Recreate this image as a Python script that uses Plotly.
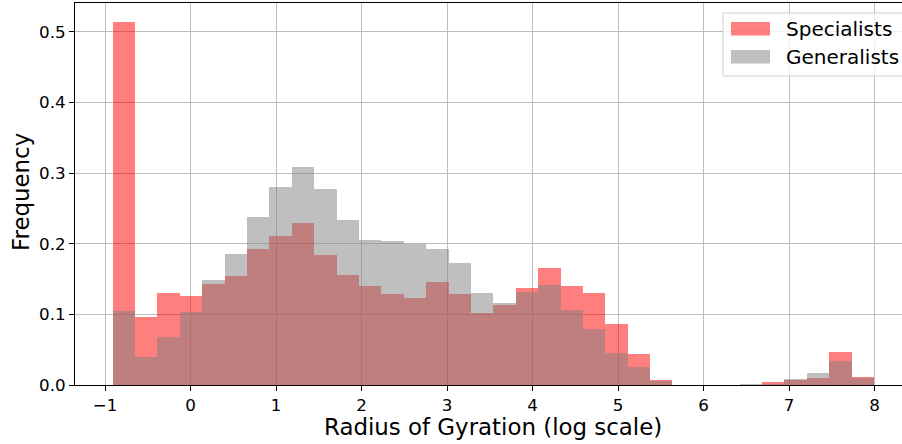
import numpy as np
import plotly.graph_objects as go

# ---- data (density histogram, 34 shared bins) ----
bin_lo = -0.91
bin_hi = 7.994
n_bins = 34

specialists = [0.5137, 0.0962, 0.1302, 0.1259, 0.1429, 0.1542, 0.1929, 0.2108,
               0.2292, 0.1840, 0.1557, 0.1401, 0.1288, 0.1231, 0.1457, 0.1288,
               0.1019, 0.1132, 0.1373, 0.1656, 0.1401, 0.1302, 0.0863, 0.0439,
               0.0071, 0.0, 0.0, 0.0, 0.0, 0.0042, 0.0071, 0.0099, 0.0467, 0.0113]
generalists = [0.1047, 0.0396, 0.0679, 0.1033, 0.1486, 0.1854, 0.2377, 0.2802,
               0.3085, 0.2773, 0.2335, 0.2052, 0.2038, 0.2000, 0.1924, 0.1726,
               0.1302, 0.1160, 0.1316, 0.1415, 0.1061, 0.0792, 0.0453, 0.0255,
               0.0057, 0.0, 0.0, 0.0, 0.0014, 0.0014, 0.0085, 0.0170, 0.0340, 0.0099]
series_names = ["Specialists", "Generalists"]
x_ticks = [-1, 0, 1, 2, 3, 4, 5, 6, 7, 8]
y_ticks = [0.0, 0.1, 0.2, 0.3, 0.4, 0.5]

edges = np.linspace(bin_lo, bin_hi, n_bins + 1)
centers = (edges[:-1] + edges[1:]) / 2
width = edges[1] - edges[0]

RED = "rgba(255,0,0,0.5)"
GRAY = "rgba(128,128,128,0.5)"
FONT = "DejaVu Sans"
TICK_SIZE = 16.7
TITLE_SIZE = 22.9
LEGEND_SIZE = 20.0

W, H = 902, 444
ML, MR, MT, MB = 75, 0, 3, 59
PW = W - ML - MR
PH = H - MT - MB


def px(xpix):
    return (xpix - ML) / PW


def py(ypix):
    return (H - MB - ypix) / PH


fig = go.Figure()
fig.add_trace(go.Bar(x=centers, y=specialists, width=width, name=series_names[0],
                     marker=dict(color=RED, line=dict(width=0)), showlegend=False))
fig.add_trace(go.Bar(x=centers, y=generalists, width=width, name=series_names[1],
                     marker=dict(color=GRAY, line=dict(width=0)), showlegend=False))

# custom legend (matplotlib style)
shapes = [
    dict(type="rect", xref="paper", yref="paper",
         x0=px(723), x1=px(903), y0=py(76), y1=py(13),
         fillcolor="rgba(255,255,255,0.8)", line=dict(color="#d0d0d0", width=1), layer="above"),
    dict(type="rect", xref="paper", yref="paper",
         x0=px(731), x1=px(770), y0=py(35.5), y1=py(22),
         fillcolor=RED, line=dict(width=0), layer="above"),
    dict(type="rect", xref="paper", yref="paper",
         x0=px(731), x1=px(770), y0=py(63.5), y1=py(50),
         fillcolor=GRAY, line=dict(width=0), layer="above"),
]
annotations = [
    dict(text=series_names[0], xref="paper", yref="paper", x=px(784), y=py(29),
         xanchor="left", yanchor="middle", showarrow=False,
         font=dict(family=FONT, size=LEGEND_SIZE, color="black")),
    dict(text=series_names[1], xref="paper", yref="paper", x=px(784), y=py(57),
         xanchor="left", yanchor="middle", showarrow=False,
         font=dict(family=FONT, size=LEGEND_SIZE, color="black")),
    dict(text="Radius of Gyration (log scale)", xref="paper", yref="paper",
         x=px(493), y=py(427), xanchor="center", yanchor="middle", showarrow=False,
         font=dict(family=FONT, size=TITLE_SIZE, color="black")),
    dict(text="Frequency", xref="paper", yref="paper",
         x=px(20.5), y=py(192.5), xanchor="center", yanchor="middle", showarrow=False,
         textangle=-90, font=dict(family=FONT, size=TITLE_SIZE, color="black")),
]

x_left = -1 - (105 - ML) / 85.5
x_right = x_left + PW / 85.5
y_top = PH / 706.6

fig.update_layout(
    width=W, height=H,
    margin=dict(l=ML, r=MR, t=MT, b=MB, pad=0),
    barmode="overlay",
    bargap=0,
    plot_bgcolor="white",
    paper_bgcolor="white",
    font=dict(family=FONT, size=TICK_SIZE, color="black"),
    shapes=shapes,
    annotations=annotations,
    showlegend=False,
    xaxis=dict(range=[x_left, x_right], tickvals=x_ticks, ticks="outside", ticklen=5,
               tickwidth=1.1, tickcolor="black", showgrid=True, gridcolor="#bdbdbd",
               gridwidth=1, showline=True, linecolor="black", linewidth=1.1,
               mirror=True, zeroline=False, tickfont=dict(size=TICK_SIZE)),
    yaxis=dict(range=[0, y_top], tickvals=y_ticks, tickformat=".1f", ticks="outside",
               ticklen=5, tickwidth=1.1, tickcolor="black", showgrid=True,
               gridcolor="#bdbdbd", gridwidth=1, showline=True, linecolor="black",
               linewidth=1.1, zeroline=False, tickfont=dict(size=TICK_SIZE)),
)

fig.write_html("out.html", config={"displayModeBar": False},
               post_script="document.body.style.margin='0';document.body.style.padding='0';"
                           "document.body.style.overflow='hidden';")
